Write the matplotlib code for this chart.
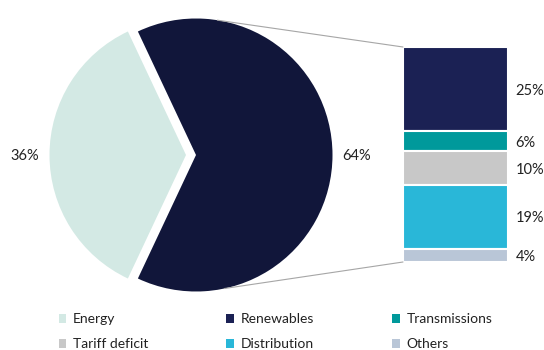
import numpy as np
import matplotlib.pyplot as plt
from matplotlib.patches import Patch, ConnectionPatch

plt.rcParams['font.family'] = ['Lato', 'DejaVu Sans']

# pie: split between energy and renewables
pie_labels = ['Energy', 'Renewables']
pie_values = [36, 64]
pie_colors = ['#d3e9e4', '#11163a']

# bar: breakdown of the renewables slice, top to bottom
bar_labels = ['Renewables', 'Transmissions', 'Tariff deficit', 'Distribution', 'Others']
bar_values = [25, 6, 10, 19, 4]
bar_colors = ['#1b2154', '#00999b', '#c8c8c8', '#29b7d8', '#b9c6d7']

W, H = 544, 350
fig = plt.figure(figsize=(W / 100, H / 100), dpi=100)

# pie axes in pixel units
ax = fig.add_axes([0, 0, 1, 1])
cx, cy, r = 191, H - 155, 136.5
shift = 5  # explode offset, in pixels
start = 180 - pie_values[0] / 100 * 360 / 2
wedges, _ = ax.pie(pie_values, colors=pie_colors, startangle=start,
                   center=(cx, cy), radius=r, explode=[shift, shift],
                   frame=True, wedgeprops=dict(linewidth=0))
ax.set_xlim(0, W)
ax.set_ylim(0, H)
ax.set_aspect('equal')
ax.axis('off')

ax.text(25, H - 156, f'{pie_values[0]}%', ha='center', va='center',
        fontsize=10.5, color='#222222')
ax.text(357, H - 156, f'{pie_values[1]}%', ha='center', va='center',
        fontsize=10.5, color='#222222')

# stacked bar
bx = fig.add_axes([403 / W, (H - 262) / H, 105 / W, 215 / H])
bx.set_xlim(-0.5, 0.5)
bx.set_ylim(0, sum(bar_values))
bx.axis('off')

bottom = sum(bar_values)
for v, c in zip(bar_values, bar_colors):
    bottom -= v
    bx.bar(0, v, bottom=bottom, width=1.0, color=c,
           edgecolor='white', linewidth=1.5)
    bx.text(0.57, bottom + v / 2 - 0.5, f'{v}%', ha='left', va='center',
            fontsize=10.5, color='#222222', clip_on=False)

# connector lines from the renewables wedge to the bar
for ang, yb in [(81, sum(bar_values)), (-78, 0)]:
    px = cx + shift + r * np.cos(np.radians(ang))
    py = cy + r * np.sin(np.radians(ang))
    con = ConnectionPatch(xyA=(px, py), coordsA=ax.transData,
                          xyB=(-0.5, yb), coordsB=bx.transData,
                          color='#a6a6a6', linewidth=0.8)
    fig.add_artist(con)

# legend, filled column by column
legend_labels = ['Energy', 'Tariff deficit', 'Renewables', 'Distribution',
                 'Transmissions', 'Others']
legend_colors = {'Energy': pie_colors[0], 'Renewables': bar_colors[0],
                 'Transmissions': bar_colors[1], 'Tariff deficit': bar_colors[2],
                 'Distribution': bar_colors[3], 'Others': bar_colors[4]}
handles = [Patch(facecolor=legend_colors[l], edgecolor='none') for l in legend_labels]
fig.legend(handles, legend_labels, ncol=3, loc='lower left',
           bbox_to_anchor=(46 / W, -13 / H), frameon=False, fontsize=10,
           handlelength=0.55, handleheight=0.55, handletextpad=0.5,
           columnspacing=5.6, labelspacing=0.95, labelcolor='#222222')

fig.savefig('out.png', dpi=100)
